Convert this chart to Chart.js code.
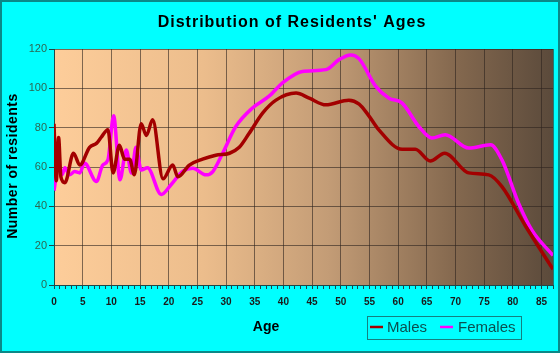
<!DOCTYPE html>
<html>
<head>
<meta charset="utf-8">
<script src="https://cdn.jsdelivr.net/npm/chart.js@4.4.1/dist/chart.umd.min.js"></script>
<style>
  body { margin: 0; background: #00ffff; }
  canvas { display: block; }
</style>
</head>
<body>
<canvas id="grafico" width="560" height="353"></canvas>
<script>
// valores (idade -> numero de moradores)
const maleAges = [0, 0.4, 0.8, 1.2, 1.9, 3.4, 4.5, 6.2, 7.4, 8.2, 9.4, 10.3, 11.4, 12.3, 13.2, 14, 15.2, 16.1, 17.2, 19, 20.7, 21.6, 23.6, 25.9, 28.2, 30.6, 32.3, 34, 36.4, 38.7, 42.2, 44.5, 47.4, 51.4, 53.2, 54.9, 56.6, 60.7, 63, 65.6, 68.1, 72.3, 75.8, 78.1, 82.2, 87]
const maleValues = [82, 53, 75, 55, 52, 67, 61, 70, 72, 75, 79, 57, 71, 64, 64, 56, 82, 76, 84, 54, 61, 55, 61, 64, 66, 67, 70, 77, 87.5, 94, 97.6, 95, 91.6, 94, 92, 86, 79, 69, 69, 63, 67, 57, 56, 50, 30, 8]

const femaleAges = [0, 0.8, 1.4, 1.9, 2.7, 3.6, 4.5, 5.3, 7.4, 8.5, 9.4, 10.4, 11.5, 12.6, 13.5, 14.3, 15.2, 16.3, 18.7, 20.4, 22.4, 24.2, 26.5, 27.7, 29.4, 31.7, 34.6, 37.5, 39.8, 43.3, 47.4, 49.7, 51.7, 53.2, 56.1, 58.4, 60.7, 63.6, 65.9, 68.2, 72.3, 76.1, 78.1, 81, 83.3, 87]
const femaleValues = [48, 61, 56, 59.6, 56, 57.7, 57, 62, 52.6, 61, 63.6, 86, 53.5, 68.7, 57, 70, 58.5, 59.6, 46, 51, 57.7, 59.4, 56, 57.7, 67, 80.6, 90, 96, 102.7, 108.6, 109.5, 114.6, 117, 115, 101, 95, 92.5, 80.6, 74.7, 76.4, 69.6, 71.3, 63.6, 41.6, 28, 15]

const yTicks = [0, 20, 40, 60, 80, 100, 120]
const xLabelStep = 5
const ageMax = 87

const corGrade = 'rgba(45,35,30,0.6)'
const corTick = '#1e4848'

// fundo ciano, degrade da area do grafico, titulos e legenda
const fundo = {
    id: 'fundo',
    beforeDraw(chart) {
        const {ctx, chartArea: a, width, height} = chart
        ctx.save()
        ctx.fillStyle = '#00ffff'
        ctx.fillRect(0, 0, width, height)
        const g = ctx.createLinearGradient(a.left, 0, a.right, 0)
        g.addColorStop(0, '#fdcd9a')
        g.addColorStop(0.3, '#ecbd8c')
        g.addColorStop(0.55, '#c39c76')
        g.addColorStop(0.8, '#85694f')
        g.addColorStop(1, '#5b4a3b')
        ctx.fillStyle = g
        ctx.fillRect(a.left, a.top, a.width, a.height)
        ctx.strokeStyle = '#0b8888'
        ctx.lineWidth = 2
        ctx.strokeRect(1, 1, width - 2, height - 2)
        ctx.restore()
    },
    afterDraw(chart) {
        const ctx = chart.ctx
        ctx.save()
        ctx.fillStyle = '#000'
        ctx.textAlign = 'center'
        ctx.textBaseline = 'middle'

        ctx.font = 'bold 16px Arial, "Liberation Sans", sans-serif'
        ctx.letterSpacing = '1px'
        ctx.fillText("Distribution of Residents' Ages", 292, 23)

        ctx.font = 'bold 14px Arial, "Liberation Sans", sans-serif'
        ctx.letterSpacing = '0px'
        ctx.fillText('Age', 266, 327)

        ctx.save()
        ctx.translate(13, 166)
        ctx.rotate(-Math.PI / 2)
        ctx.letterSpacing = '0.5px'
        ctx.fillText('Number of residents', 0, 0)
        ctx.restore()

        // legenda
        ctx.strokeStyle = '#148080'
        ctx.lineWidth = 1
        ctx.strokeRect(367.5, 316.5, 154, 23)
        ctx.font = '15px Arial, "Liberation Sans", sans-serif'
        ctx.textAlign = 'left'
        ctx.letterSpacing = '0px'
        const pos = [[370, 387], [440, 458]]
        chart.data.datasets.forEach((ds, i) => {
            ctx.strokeStyle = ds.borderColor
            ctx.lineWidth = 2.5
            ctx.beginPath()
            ctx.moveTo(pos[i][0], 327)
            ctx.lineTo(pos[i][0] + 13, 327)
            ctx.stroke()
            ctx.fillStyle = '#0a5050'
            ctx.fillText(ds.label, pos[i][1], 328)
        })
        ctx.restore()
    }
}

const pontos = (xs, ys) => xs.map((x, i) => ({x: x, y: ys[i]}))

const rg = document.getElementById('grafico').getContext('2d')

const data = {
    datasets: [{
        label: 'Males',
        data: pontos(maleAges, maleValues),
        borderColor: '#a30000',
        borderWidth: 3.5,
        pointRadius: 0,
        cubicInterpolationMode: 'monotone'
    }, {
        label: 'Females',
        data: pontos(femaleAges, femaleValues),
        borderColor: '#ff00ff',
        borderWidth: 3.5,
        pointRadius: 0,
        cubicInterpolationMode: 'monotone'
    }]
}

const config = {
    type: 'line',
    data,
    plugins: [fundo],
    options: {
        responsive: false,
        animation: false,
        layout: { padding: { top: 49, right: 6, bottom: 0, left: 0 } },
        plugins: {
            legend: { display: false },
            title: { display: false },
            tooltip: { enabled: false }
        },
        scales: {
            x: {
                type: 'linear',
                min: 0,
                max: ageMax,
                afterFit: s => { s.height = 68 },
                afterBuildTicks: s => {
                    s.ticks = []
                    for (let v = 0; v <= ageMax; v++) s.ticks.push({value: v})
                },
                ticks: {
                    autoSkip: false,
                    maxRotation: 0,
                    padding: 7,
                    color: '#1a1a1a',
                    font: { family: 'Arial, "Liberation Sans", sans-serif', size: 10, weight: 'bold' },
                    callback: v => (v % xLabelStep === 0 ? v : '')
                },
                grid: {
                    color: c => (c.tick && (c.tick.value % xLabelStep === 0 || c.tick.value === ageMax) ? corGrade : 'rgba(0,0,0,0)'),
                    tickColor: corTick,
                    tickLength: 4,
                    lineWidth: 1
                },
                border: { color: corTick, width: 1 }
            },
            y: {
                min: 0,
                max: 120,
                afterFit: s => { s.width = 54 },
                afterBuildTicks: s => { s.ticks = yTicks.map(v => ({value: v})) },
                ticks: {
                    padding: 2,
                    color: '#2c6652',
                    font: { family: '"Liberation Sans Narrow", "Arial Narrow", Arial, sans-serif', size: 11 }
                },
                grid: {
                    color: corGrade,
                    tickColor: corTick,
                    tickLength: 5,
                    lineWidth: 1
                },
                border: { color: corTick, width: 1 }
            }
        }
    }
}

const myChart = new Chart(rg, config)
</script>
</body>
</html>
